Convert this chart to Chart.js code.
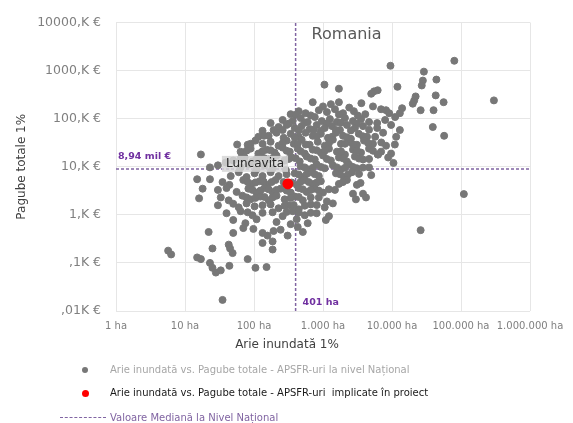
<!DOCTYPE html>
<html>
<head>
<meta charset="utf-8">
<script src="https://cdn.jsdelivr.net/npm/chart.js@4.4.0/dist/chart.umd.min.js"></script>
<style>
  html, body { margin: 0; padding: 0; background: #fff; }
  #wrap { position: relative; width: 573px; height: 423px; font-family: 'DejaVu Sans', sans-serif; }
  #chart { position: absolute; left: 0; top: 0; }
  .leg-row { position: absolute; left: 110px; font-size: 10px; line-height: 14px; white-space: pre; }
  .leg-mark { position: absolute; }
</style>
</head>
<body>
<div id="wrap">
  <canvas id="chart" width="573" height="423"></canvas>
  <div id="legend"></div>
</div>
<script>
/* ── Data ──────────────────────────────────────────────── */
const panelTitle = 'Romania';

const xTickValues = [1, 10, 100, 1000, 10000, 100000, 1000000];
const xTickLabels = ['1 ha', '10 ha', '100 ha', '1.000 ha', '10.000 ha', '100.000 ha', '1.000.000 ha'];
const yTickValues = [0.01, 0.1, 1, 10, 100, 1000, 10000];
const yTickLabels = [',01K €', ',1K €', '1,K €', '10,K €', '100,K €', '1000,K €', '10000,K €'];

const xTitle = 'Arie inundată 1%';
const yTitle = 'Pagube totale 1%';

// national median values
const medianArea = 401;          // ha
const medianDamage = 8.94;       // K €
const medianAreaLabel = '401 ha';
const medianDamageLabel = '8,94 mil €';

// APSFR in project: [area ha, damage K €]
const projectNames = ['Luncavita'];
const projectPoints = [[310, 4.4]];

// APSFR national: [area ha, damage K €]
const nationalPoints = [
  [80000,1600],[9500,1260],[29000,950],[28000,620],[27000,490],[44000,650],[43000,305],[56000,220],
  [300000,240],[40000,150],[26000,150],[39000,67],[57000,44],[110000,2.7],[26000,0.48],
  [1050,510],[1700,420],[5500,370],[6200,390],[5000,330],[12000,460],[1700,220],[21000,240],
  [22000,290],[20000,205],[14000,165],[13000,130],[8200,150],[13000,58],[11000,29],[10500,12],
  [7000,32],[6200,18],[3500,4.6],
  [710,220],[1000,180],[1300,200],[2400,170],[3600,210],[5300,180],
  [340,124],[445,143],[560,130],[870,150],[1140,137],[1490,157],[1950,130],[2800,143],[4100,124],
  [6950,157],[9100,130],
  [400,120],[665,117],[1700,122],[3200,116],
  [260,94],[364,89],[475,103],[600,85],[760,108],[960,89],[1260,98],[1590,85],[2080,103],[2720,89],
  [3560,98],[4650,85],[7950,94],[11100,108],
  [174,81],[318,79],[544,83],[1140,80],[1820,82],[3100,78],[6100,81],
  [133,56],[192,58],[227,67],[297,74],[389,64],[490,70],[640,61],[810,74],[1060,64],[1350,70],
  [1760,58],[2220,74],[2900,64],[3800,70],[6100,64],[9700,74],
  [260,58],[445,57],[735,59],[930,56],[1540,58],[2540,57],[4650,59],
  [163,44],[212,51],[269,40],[340,48.5],[445,42],[560,51],[710,44],[930,48.5],[1180,40],[1540,51],
  [1950,44],[2540,38],[3300,48.5],[4350,42],[7430,51],[11500,42],
  [116,42],[389,41],[810,43],[1350,42],[2220,41],[3800,43],[5700,42],
  [81,28.7],[105,35],[133,30],[174,33],[227,27.4],[297,35],[376,30],[490,36.5],[640,28.7],[840,33],
  [1060,27.4],[1390,36.5],[1820,30],[2380,33],[3100,28.7],[3930,35],[5300,30],[8200,27.4],[57,29],[140,44],
  [89,30],[260,31],[430,30],[562,29],[1220,31],[2080,30],[2720,29],[4500,31],
  [64,20.6],[89,23.8],[116,18.8],[152,22.7],[199,19.7],[260,25],[330,20.6],[430,23.8],[544,18.8],
  [710,22.7],[930,19.7],[1220,23.8],[1590,20.6],[2080,17.9],[2720,22.7],[3560,19.7],[4650,23.8],
  [6950,20.6],[9700,18.8],[17,18],
  [78,21.6],[133,21],[174,22],[297,21.5],[475,21],[810,22],[1064,21.6],[1820,21],[3100,22],[5300,21.5],
  [50,13.5],[73,15.6],[95,12.9],[124,16.3],[163,14.2],[212,17.1],[278,13.5],[352,15.6],[460,12.9],
  [580,16.3],[760,14.2],[1000,17.1],[1300,13.5],[1700,15.6],[2220,12.9],[2900,16.3],[3800,14.2],
  [6300,17.9],[8800,15.6],
  [64,14.8],[109,14.5],[142,15],[186,14.8],[318,14.5],[402,15],[665,14.8],[1140,14.5],[1945,15],
  [3325,14.8],[4650,14.5],
  [23,9.7],[30,10.7],[39,12.3],[64,9.7],[83,11.2],[109,8.8],[142,10.7],[186,9.3],[290,8.5],[475,10.2],
  [620,8.8],[810,11.2],[1060,9.3],[1390,10.7],[1820,8.8],[2380,11.2],[3100,9.3],[4650,9.7],
  [544,9.7],[711,9.5],[930,9.9],[1591,9.7],[2080,9.5],[2720,9.9],[3800,9.6],
  [46,6.4],[60,7.7],[78,6.1],[102,7.3],[133,6.4],[174,7.7],[227,6.4],[389,7.3],[510,6.1],[665,7.7],
  [870,6.4],[1540,7.3],[2010,6.1],[2630,7.7],[5000,6.7],
  [297,7.0],[445,6.9],[581,7.1],[760,7.0],[1759,7.0],[2300,6.9],[3325,7.1],
  [35,4.8],[44,4.2],[70,5.3],[92,4.4],[120,5.0],[157,4.2],[205,5.3],[269,4.8],[416,4.2],[544,5.3],
  [710,4.4],[930,5.0],[1700,4.4],[2220,5.3],[3100,4.2],[15,5.5],[23,5.5],
  [81,4.8],[105,4.7],[138,4.9],[180,4.8],[352,4.7],[475,4.9],[622,4.8],[813,4.7],[1945,4.8],
  [30,3.3],[40,3.6],[56,3.0],[83,3.5],[109,2.9],[142,3.6],[186,3.0],[243,3.5],[340,2.9],[445,3.6],
  [580,3.0],[760,3.5],[1000,2.9],[1490,3.3],[2720,2.75],[3800,2.75],[18,3.5],
  [95,3.3],[124,3.2],[163,3.4],[212,3.3],[297,3.2],[509,3.4],[665,3.3],[870,3.2],[1217,3.4],
  [33,2.3],[43,2.0],[68,2.5],[89,2.1],[124,2.4],[163,2.0],[212,2.5],[278,2.1],[389,2.4],[510,2.0],
  [870,2.3],[1140,1.9],[3000,2.1],[4200,2.3],[16,2.2],
  [78,2.3],[105,2.25],[142,2.35],[186,2.3],[340,2.25],[445,2.35],[665,2.3],
  [30,1.58],[60,1.43],[78,1.73],[102,1.5],[174,1.65],[227,1.37],[318,1.58],[445,1.3],[665,1.65],
  [1060,1.43],[1390,1.73],[50,1.7],
  [133,1.58],[278,1.55],[376,1.6],[544,1.55],[813,1.6],
  [40,1.08],[64,1.19],[95,0.98],[186,1.13],[260,0.94],[364,1.19],[544,0.98],[810,1.08],[1220,0.94],
  [81,1.13],[133,1.1],[297,1.15],[445,1.12],[665,1.1],
  [50,0.78],[75,0.67],[109,0.81],[212,0.71],[340,0.64],[416,0.81],[600,0.67],[1100,0.78],
  [70,0.53],[98,0.51],[133,0.42],[243,0.49],[430,0.56],[510,0.44],[50,0.42],[192,0.46],[22,0.44],
  [157,0.37],[307,0.37],[186,0.28],[43,0.24],[25,0.2],[45,0.2],[49,0.16],[133,0.26],[186,0.19],
  [5.7,0.18],[6.3,0.15],[15,0.13],[17,0.12],[23,0.1],[25,0.079],[28,0.063],[33,0.07],[44,0.087],
  [81,0.12],[105,0.079],[152,0.082],[35,0.017]
];

const legendLabels = [
  'Arie inundată vs. Pagube totale - APSFR-uri la nivel Național',
  'Arie inundată vs. Pagube totale - APSFR-uri  implicate în proiect',
  'Valoare Mediană la Nivel Național'
];

/* ── Colours ───────────────────────────────────────────── */
const GRAY = '#777777';
const RED = '#ff0000';
const PURPLE = '#8064a2';
const PURPLE_DARK = '#7030a0';
const FONT = "'DejaVu Sans', sans-serif";

const toXY = ([x, y]) => ({ x, y });

/* ── Text overlay (title, labels, axis titles) ─────────── */
const overlay = {
  id: 'overlay',
  afterDatasetsDraw(chart) {
    const { ctx, chartArea: a, scales: { x, y } } = chart;
    ctx.save();
    ctx.textBaseline = 'middle';
    ctx.textAlign = 'left';

    // panel title
    ctx.fillStyle = '#595959';
    ctx.font = `16px ${FONT}`;
    ctx.fillText(panelTitle, x.getPixelForValue(medianArea) + 16, a.top + 12);

    // median labels
    ctx.fillStyle = PURPLE_DARK;
    ctx.font = `bold 9.5px ${FONT}`;
    ctx.fillText(medianDamageLabel, a.left + 2, y.getPixelForValue(medianDamage) - 13);
    ctx.fillText(medianAreaLabel, x.getPixelForValue(medianArea) + 7, a.bottom - 8);

    // project point label
    const px = x.getPixelForValue(projectPoints[0][0]);
    const py = y.getPixelForValue(projectPoints[0][1]);
    ctx.font = `12px ${FONT}`;
    const w = ctx.measureText(projectNames[0]).width;
    ctx.fillStyle = 'rgba(214,214,214,0.85)';
    ctx.fillRect(px - 66, py - 28, w + 8, 16);
    ctx.fillStyle = '#262626';
    ctx.fillText(projectNames[0], px - 62, py - 20);

    // axis titles
    ctx.fillStyle = '#404040';
    ctx.font = `12px ${FONT}`;
    ctx.textAlign = 'center';
    ctx.fillText(xTitle, a.left + 171, a.bottom + 34);
    ctx.translate(22, (a.top + a.bottom) / 2);
    ctx.rotate(-Math.PI / 2);
    ctx.fillText(yTitle, 0, 0);
    ctx.restore();
  }
};

/* ── Chart ─────────────────────────────────────────────── */
new Chart(document.getElementById('chart'), {
  type: 'scatter',
  data: {
    datasets: [
      {
        label: legendLabels[1],
        data: projectPoints.map(toXY),
        backgroundColor: RED,
        borderColor: RED,
        pointRadius: 5,
        order: 0
      },
      {
        label: legendLabels[0],
        data: nationalPoints.map(toXY),
        backgroundColor: GRAY,
        borderColor: GRAY,
        borderWidth: 1,
        pointRadius: 3.5,
        order: 1
      },
      {
        label: legendLabels[2],
        data: [{ x: medianArea, y: yTickValues[0] }, { x: medianArea, y: yTickValues[yTickValues.length - 1] }],
        showLine: true,
        borderColor: PURPLE,
        borderWidth: 1.5,
        borderDash: [3, 2],
        pointRadius: 0,
        order: 2
      },
      {
        label: legendLabels[2],
        data: [{ x: xTickValues[0], y: medianDamage }, { x: xTickValues[xTickValues.length - 1], y: medianDamage }],
        showLine: true,
        borderColor: PURPLE,
        borderWidth: 1.5,
        borderDash: [3, 2],
        pointRadius: 0,
        order: 3
      }
    ]
  },
  options: {
    responsive: false,
    animation: false,
    events: [],
    layout: { padding: { left: 0, top: 18, right: 43, bottom: 0 } },
    plugins: { legend: { display: false }, tooltip: { enabled: false } },
    scales: {
      x: {
        type: 'logarithmic',
        min: xTickValues[0],
        max: xTickValues[xTickValues.length - 1],
        afterBuildTicks: s => { s.ticks = xTickValues.map(v => ({ value: v })); },
        afterFit: s => { s.height = 112; },
        grid: { color: '#e6e6e6', drawTicks: false },
        border: { display: false },
        ticks: {
          autoSkip: false, maxRotation: 0, padding: 9, color: '#7f7f7f',
          font: { family: FONT, size: 10 },
          callback: (v, i) => xTickLabels[i]
        }
      },
      y: {
        type: 'logarithmic',
        min: yTickValues[0],
        max: yTickValues[yTickValues.length - 1],
        afterBuildTicks: s => { s.ticks = yTickValues.map(v => ({ value: v })); },
        afterFit: s => { s.width = 116; },
        grid: { color: '#e6e6e6', drawTicks: false },
        border: { display: false },
        ticks: {
          autoSkip: false, padding: 15, color: '#7f7f7f',
          font: { family: FONT, size: 12.5 },
          callback: (v, i) => yTickLabels[i]
        }
      }
    }
  },
  plugins: [overlay]
});

/* ── Legend ────────────────────────────────────────────── */
const legendStyle = [
  { color: '#a6a6a6', top: 363, mark: `left:-28px;top:4px;width:6px;height:6px;border-radius:50%;background:${GRAY}` },
  { color: '#1a1a1a', top: 386, mark: `left:-28px;top:3.5px;width:7px;height:7px;border-radius:50%;background:${RED}` },
  { color: PURPLE, top: 411, mark: `left:-50px;top:6px;width:46px;height:0;border-top:1.5px dashed ${PURPLE}` }
];
const legendEl = document.getElementById('legend');
legendLabels.forEach((text, i) => {
  const st = legendStyle[i];
  const row = document.createElement('div');
  row.className = 'leg-row';
  row.style.top = st.top + 'px';
  row.style.color = st.color;
  row.textContent = text;
  const mk = document.createElement('span');
  mk.className = 'leg-mark';
  mk.style.cssText += st.mark;
  row.appendChild(mk);
  legendEl.appendChild(row);
});
</script>
</body>
</html>
